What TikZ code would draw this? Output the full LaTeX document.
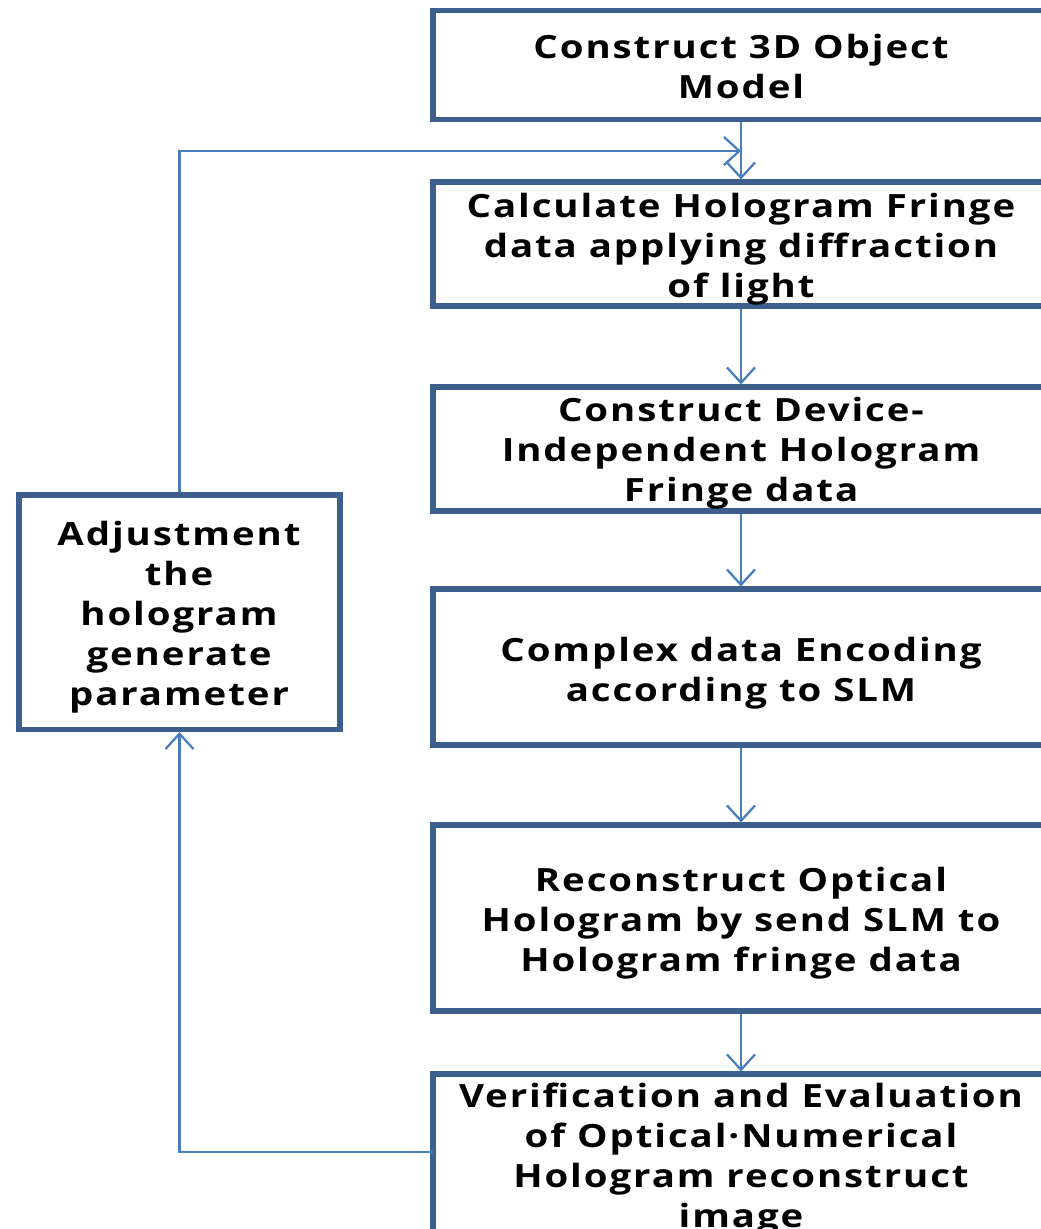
\documentclass[tikz,border=0pt]{standalone}
\usepackage{fontspec}
\setmainfont{Open Sans}[LetterSpace=6,FakeStretch=1.2]
\usetikzlibrary{arrows.meta,fit,calc}
\definecolor{boxblue}{HTML}{3C5F8D}
\definecolor{lineblue}{HTML}{4A7EBB}
\tikzset{
  box/.style={draw=boxblue, line width=3.8pt, inner sep=0pt, fill=white},
  lbl/.style={anchor=base, align=center, inner sep=0pt, font=\fontsize{24}{30}\selectfont\bfseries},
  conn/.style={draw=lineblue, line width=1.7pt, -{Straight Barb[length=11.5pt,width=21pt,line width=1.7pt]}},
  plain/.style={draw=lineblue, line width=1.7pt}
}
\begin{document}
\begin{tikzpicture}[x=0.75pt,y=-0.75pt]
\useasboundingbox (0,0) rectangle (1041,1229);
\node[box, fit={(433,10.5) (1049,119.5)}] (b1) {};
\node[box, fit={(433,182) (1049,306)}] (b2) {};
\node[box, fit={(433,387) (1049,511)}] (b3) {};
\node[box, fit={(433,589) (1049,745)}] (b4) {};
\node[box, fit={(433,825) (1049,1011)}] (b5) {};
\node[box, fit={(433,1074) (1049,1260)}] (b6) {};
\node[box, fit={(19,495) (340,729.5)}] (adj) {};

\node[lbl] (t1) at (741,98) {Construct 3D Object\\Model};
\node[lbl] (t2) at (741,297) {Calculate Hologram Fringe\\data applying diffraction\\of light};
\node[lbl] (t3) at (741,501) {Construct Device-\\Independent Hologram\\Fringe data};
\node[lbl] (t4) at (741,701) {Complex data Encoding\\according to SLM};
\node[lbl] (t5) at (741,971) {Reconstruct Optical\\Hologram by send SLM to\\Hologram fringe data};
\node[lbl] (t6) at (741,1227) {Verification and Evaluation\\of Optical·Numerical\\Hologram reconstruct\\image};
\node[lbl] (t7) at (179,705) {Adjustment\\the\\hologram\\generate\\parameter};

\coordinate (j) at (741,151);
\coordinate (fb) at (433,1152);

\draw[conn] (b1.south) -- (b2.north);
\draw[conn] (b2.south) -- (b3.north);
\draw[conn] (b3.south) -- (b4.north);
\draw[conn] (b4.south) -- (b5.north);
\draw[conn] (b5.south) -- (b6.north);
\draw[conn] (fb) -| (adj.south);
\draw[conn] (adj.north) |- (j);
\end{tikzpicture}
\end{document}
